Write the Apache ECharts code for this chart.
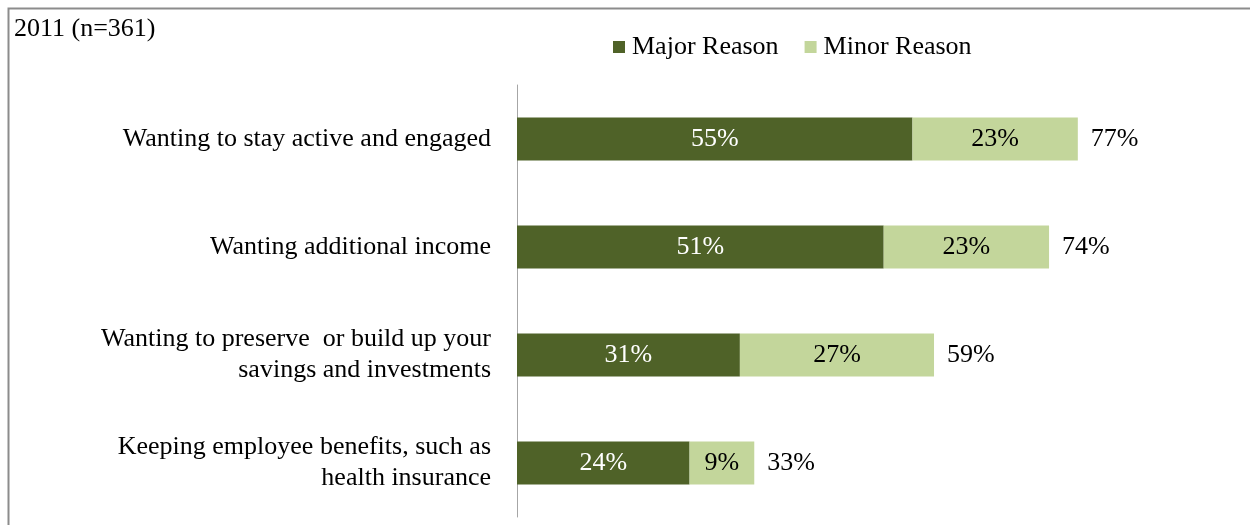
<!DOCTYPE html>
<html>
<head>
<meta charset="utf-8">
<script src="https://cdn.jsdelivr.net/npm/echarts@6/dist/echarts.min.js"></script>
<style>html,body{margin:0;padding:0;background:#fff}#c{width:1250px;height:525px}</style>
</head>
<body>
<div id="c"></div>
<script>
const categories = [
  "Wanting to stay active and engaged",
  "Wanting additional income",
  "Wanting to preserve  or build up your\nsavings and investments",
  "Keeping employee benefits, such as\nhealth insurance"
];
const majorReason = [55, 51, 31, 24];
const minorReason = [23, 23, 27, 9];
const totals = [77, 74, 59, 33];
const titleText = "2011 (n=361)";

const FONT = "'Liberation Serif', 'Times New Roman', serif";
const FS = 26;
const chart = echarts.init(document.getElementById('c'), null, {renderer: 'canvas'});
const cats = categories.slice().reverse();
const rev = a => a.slice().reverse();
chart.setOption({
  animation: false,
  textStyle: {fontFamily: FONT},
  graphic: [
    {type: 'polyline', shape: {points: [[8.5, 525], [8.5, 8.5], [1250, 8.5]]},
     style: {stroke: '#8c8c8c', lineWidth: 2, fill: null}, silent: true}
  ],
  title: {text: titleText, left: 9, top: 11,
    textStyle: {fontFamily: FONT, fontSize: FS, fontWeight: 'normal', color: '#000'}},
  legend: {
    top: 29, left: 608, itemWidth: 12, itemHeight: 12, itemGap: 26,
    icon: 'rect', data: ['Major Reason', 'Minor Reason'],
    textStyle: {fontFamily: FONT, fontSize: FS, color: '#000', padding: [0, 0, 0, 2]}
  },
  grid: {left: 517, right: 14, top: 85, bottom: 8, containLabel: false},
  xAxis: {type: 'value', min: 0, max: 100, show: false},
  yAxis: {
    type: 'category', data: cats,
    axisLine: {show: true, lineStyle: {color: '#a6a6a6', width: 1}},
    axisTick: {show: false},
    axisLabel: {fontFamily: FONT, fontSize: FS, color: '#000', margin: 26, lineHeight: 31, align: 'right'}
  },
  series: [
    {name: 'Major Reason', type: 'bar', stack: 's', data: rev(majorReason),
     barCategoryGap: '60%', itemStyle: {color: '#4F6228'},
     label: {show: true, position: 'inside', formatter: '{c}%', color: '#fff', fontFamily: FONT, fontSize: FS}},
    {name: 'Minor Reason', type: 'bar', stack: 's', data: rev(minorReason),
     itemStyle: {color: '#C3D69B'},
     label: {show: true, position: 'inside', formatter: '{c}%', color: '#000', fontFamily: FONT, fontSize: FS}},
    {name: 'Total', type: 'bar', stack: 's', data: rev(totals).map(() => 0),
     itemStyle: {color: 'transparent'}, silent: true,
     label: {show: true, position: 'right', distance: 13, color: '#000', fontFamily: FONT, fontSize: FS,
       formatter: p => rev(totals)[p.dataIndex] + '%'}}
  ]
});
</script>
</body>
</html>
